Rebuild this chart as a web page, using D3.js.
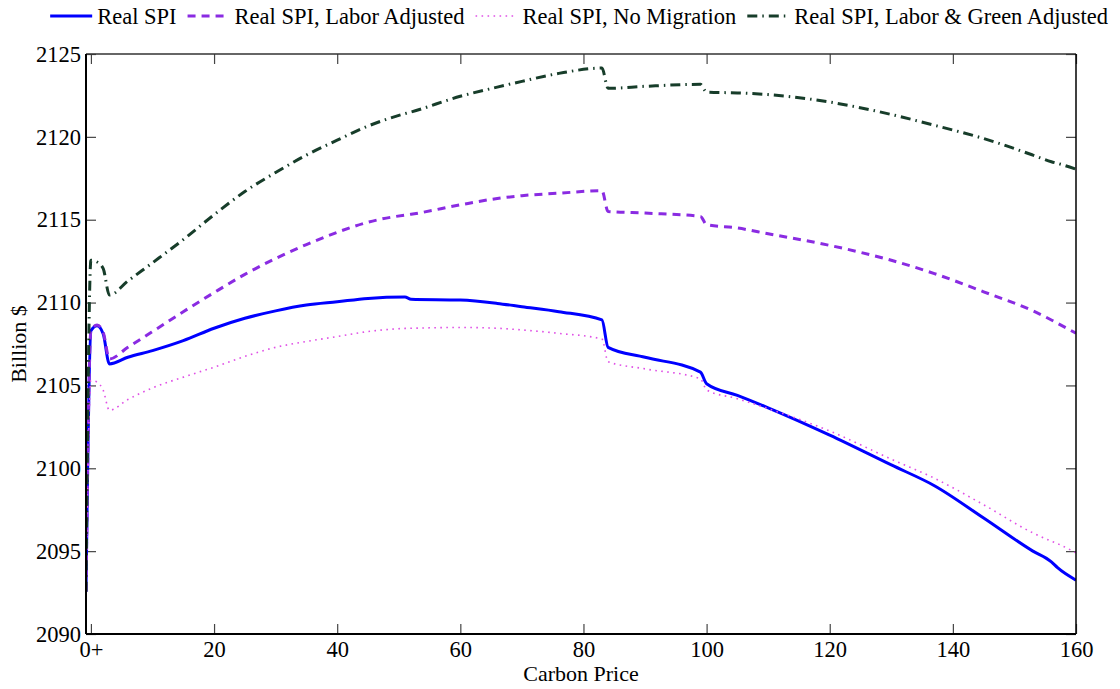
<!DOCTYPE html>
<html>
<head>
<meta charset="utf-8">
<script src="https://cdn.jsdelivr.net/npm/d3@7"></script>
<style>
  body { margin: 0; background: #fff; }
  svg text { font-family: "Liberation Serif", "Times New Roman", serif; fill: #000; }
</style>
</head>
<body>
<div id="chart"></div>
<script>
// carbon price (x) and the four SPI series
const carbonPrice = [-0.8, 0, 1, 2, 3, 6, 10, 15, 20, 25, 30, 35, 40, 45, 51, 52, 60, 66, 70, 76, 83, 84, 90, 99, 100, 105, 110, 120, 130, 137, 145, 153, 156, 157, 160];
const realSpi = [2092.55, 2108.3, 2108.6, 2108.1, 2106.3, 2106.7, 2107.1, 2107.7, 2108.45, 2109.05, 2109.5, 2109.85, 2110.05, 2110.25, 2110.33, 2110.2, 2110.15, 2109.95, 2109.75, 2109.45, 2108.95, 2107.3, 2106.7, 2105.8, 2105.1, 2104.4, 2103.65, 2102.0, 2100.2, 2098.95, 2097.0, 2095.0, 2094.35, 2094.0, 2093.25];
const laborAdjusted = [2092.55, 2108.3, 2108.65, 2108.2, 2106.6, 2107.3, 2108.25, 2109.45, 2110.6, 2111.7, 2112.66, 2113.5, 2114.24, 2114.85, 2115.28, 2115.33, 2115.9, 2116.28, 2116.45, 2116.6, 2116.75, 2115.5, 2115.4, 2115.2, 2114.7, 2114.5, 2114.15, 2113.45, 2112.55, 2111.75, 2110.65, 2109.5, 2108.95, 2108.75, 2108.15];
const noMigration = [2092.55, 2105.3, 2105.2, 2104.7, 2103.5, 2104.15, 2104.85, 2105.5, 2106.1, 2106.75, 2107.3, 2107.65, 2107.95, 2108.25, 2108.44, 2108.45, 2108.5, 2108.45, 2108.35, 2108.14, 2107.8, 2106.43, 2106.0, 2105.4, 2104.73, 2104.2, 2103.6, 2102.25, 2100.55, 2099.4, 2097.8, 2096.1, 2095.6, 2095.45, 2094.9];
const laborGreen = [2092.55, 2112.55, 2112.45, 2112.05, 2110.45, 2111.3, 2112.4, 2113.8, 2115.3, 2116.7, 2117.85, 2118.9, 2119.8, 2120.65, 2121.4, 2121.5, 2122.45, 2123.0, 2123.35, 2123.83, 2124.15, 2122.93, 2123.05, 2123.17, 2122.7, 2122.65, 2122.55, 2122.1, 2121.35, 2120.7, 2119.9, 2118.9, 2118.5, 2118.4, 2118.05];

const seriesNames = ["Real SPI", "Real SPI, Labor Adjusted", "Real SPI, No Migration", "Real SPI, Labor & Green Adjusted"];
const xTicks = [0, 20, 40, 60, 80, 100, 120, 140, 160];
const xTickLabels = ["0+", "20", "40", "60", "80", "100", "120", "140", "160"];
const yTicks = [2090, 2095, 2100, 2105, 2110, 2115, 2120, 2125];

const width = 1120, height = 689;
const margin = {top: 54, right: 44, bottom: 55, left: 86};
const plotW = width - margin.left - margin.right;
const plotH = height - margin.top - margin.bottom;

const svg = d3.select("#chart").append("svg")
    .attr("width", width)
    .attr("height", height);

const x = d3.scaleLinear().domain([-0.8, 160]).range([0, plotW]);
const y = d3.scaleLinear().domain([2090, 2125]).range([plotH, 0]);

const g = svg.append("g")
    .attr("transform", `translate(${margin.left},${margin.top})`);

// series styles
const styles = [
    {values: realSpi, color: "#0000ff", width: 3, dash: null},
    {values: laborAdjusted, color: "#8a2be2", width: 3, dash: "8,6"},
    {values: noMigration, color: "#e050e6", width: 1.6, dash: "1.6,4.4"},
    {values: laborGreen, color: "#173d2a", width: 3, dash: "10,5,1.5,5"}
];

svg.append("defs").append("clipPath").attr("id", "plotClip")
  .append("rect").attr("width", plotW).attr("height", plotH);

// axes with inward ticks
const tickFmt = (d, i) => xTickLabels[i];
g.append("g")
    .attr("transform", `translate(0,${plotH})`)
    .call(d3.axisBottom(x).tickValues(xTicks).tickFormat(tickFmt).tickSize(-10).tickPadding(6))
    .call(a => a.select(".domain").remove())
    .call(a => a.selectAll("line").attr("stroke", "#444").attr("stroke-width", 1.2))
    .call(a => a.selectAll("text").attr("font-size", 22.5).attr("dy", "0.75em"));

g.append("g")
    .call(d3.axisTop(x).tickValues(xTicks).tickFormat("").tickSize(-10))
    .call(a => a.select(".domain").remove())
    .call(a => a.selectAll("line").attr("stroke", "#444").attr("stroke-width", 1.2));

g.append("g")
    .call(d3.axisLeft(y).tickValues(yTicks).tickFormat(d3.format("d")).tickSize(-10).tickPadding(5))
    .call(a => a.select(".domain").remove())
    .call(a => a.selectAll("line").attr("stroke", "#444").attr("stroke-width", 1.2))
    .call(a => a.selectAll("text").attr("font-size", 22.5));

g.append("g")
    .attr("transform", `translate(${plotW},0)`)
    .call(d3.axisRight(y).tickValues(yTicks).tickFormat("").tickSize(-10))
    .call(a => a.select(".domain").remove())
    .call(a => a.selectAll("line").attr("stroke", "#444").attr("stroke-width", 1.2));

// lines
const lineGen = vals => d3.line()
    .x((d, i) => x(carbonPrice[i]))
    .y(d => y(d))
    .curve(d3.curveMonotoneX)(vals);

const lines = g.append("g").attr("clip-path", "url(#plotClip)");
styles.forEach(s => {
    lines.append("path")
        .attr("d", lineGen(s.values))
        .attr("fill", "none")
        .attr("stroke", s.color)
        .attr("stroke-width", s.width)
        .attr("stroke-dasharray", s.dash)
        .attr("stroke-linejoin", "round");
});

// frame: left and bottom heavier, top and right lighter
g.append("line").attr("x1", 0).attr("x2", plotW).attr("y1", 0).attr("y2", 0).attr("stroke", "#333").attr("stroke-width", 1.5);
g.append("line").attr("x1", plotW).attr("x2", plotW).attr("y1", 0).attr("y2", plotH).attr("stroke", "#000").attr("stroke-width", 1.5);
g.append("line").attr("x1", 0).attr("x2", 0).attr("y1", 0).attr("y2", plotH).attr("stroke", "#000").attr("stroke-width", 2);
g.append("line").attr("x1", 0).attr("x2", plotW).attr("y1", plotH).attr("y2", plotH).attr("stroke", "#000").attr("stroke-width", 2);

// axis titles
svg.append("text")
    .attr("x", margin.left + plotW / 2)
    .attr("y", 681)
    .attr("text-anchor", "middle")
    .attr("font-size", 22)
    .text("Carbon Price");

svg.append("text")
    .attr("transform", `translate(26,${margin.top + plotH / 2}) rotate(-90)`)
    .attr("text-anchor", "middle")
    .attr("font-size", 22)
    .text("Billion $");

// legend along the top, right aligned
const legend = svg.append("g");
const sampleLen = 42, textGap = 5, itemGap = 11, legY = 16, rightEdge = 1108;
let items = [];
let cursor = 0;
styles.forEach((s, i) => {
    const item = legend.append("g");
    item.append("line")
        .attr("x1", 0).attr("x2", sampleLen)
        .attr("y1", 0).attr("y2", 0)
        .attr("stroke", s.color)
        .attr("stroke-width", s.width)
        .attr("stroke-dasharray", s.dash);
    const t = item.append("text")
        .attr("x", sampleLen + textGap)
        .attr("y", 7.5)
        .attr("font-size", 22.5)
        .text(seriesNames[i]);
    const w = sampleLen + textGap + t.node().getComputedTextLength();
    items.push({item, start: cursor});
    cursor += w + itemGap;
});
const total = cursor - itemGap;
items.forEach(d => d.item.attr("transform", `translate(${rightEdge - total + d.start},${legY})`));
</script>
</body>
</html>
